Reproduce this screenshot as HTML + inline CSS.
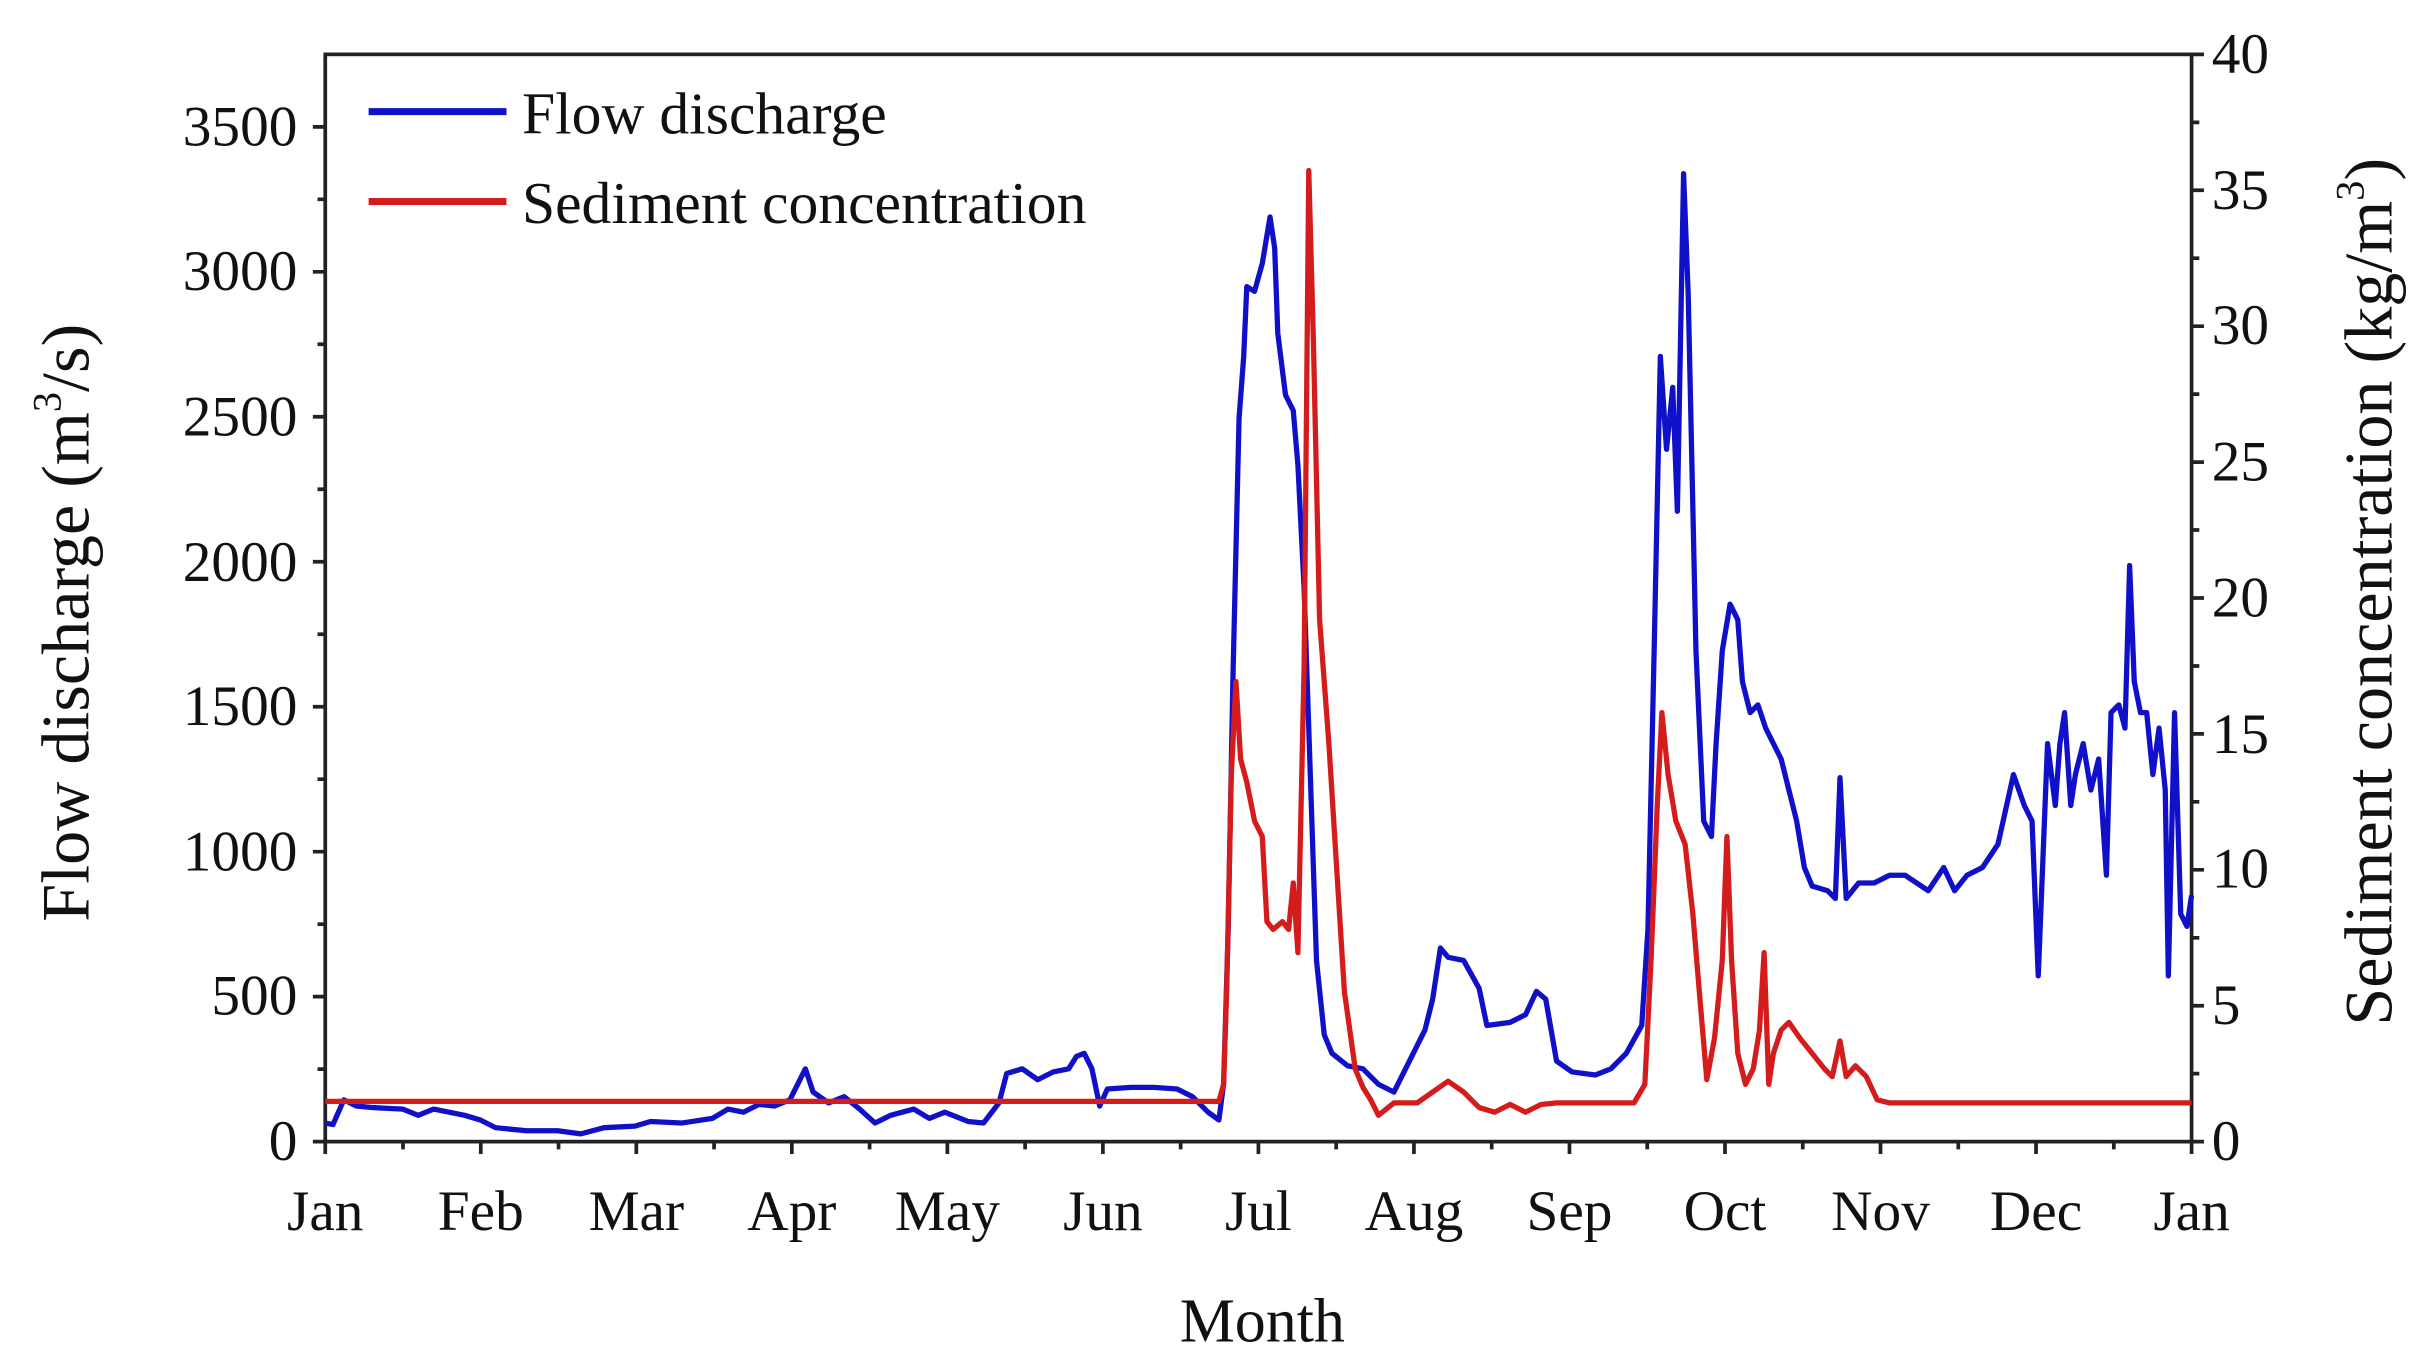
<!DOCTYPE html>
<html><head><style>body{margin:0;background:#fff}svg{display:block}</style></head><body>
<svg width="2427" height="1371" viewBox="0 0 1567 885" xmlns="http://www.w3.org/2000/svg" font-family="Liberation Serif, serif">
<rect width="1567" height="885" fill="#fff"/>
<g stroke="#222" stroke-width="2.4" fill="none">
<rect x="210" y="35" width="1205" height="702"/>
<path d="
M210,737h-8 M210,643.4h-8 M210,549.8h-8 M210,456.2h-8 M210,362.6h-8 M210,269h-8 M210,175.4h-8 M210,81.8h-8
M210,690.2h-5 M210,596.6h-5 M210,503h-5 M210,409.4h-5 M210,315.8h-5 M210,222.2h-5 M210,128.6h-5
M1415,737h8 M1415,649.25h8 M1415,561.5h8 M1415,473.75h8 M1415,386h8 M1415,298.25h8 M1415,210.5h8 M1415,122.75h8 M1415,35h8
M1415,693.1h5 M1415,605.4h5 M1415,517.6h5 M1415,429.9h5 M1415,342.1h5 M1415,254.4h5 M1415,166.6h5 M1415,78.9h5
"/>
</g>
<g id="xt" stroke="#222" stroke-width="2.4"></g>
<polyline fill="none" stroke="#1010c8" stroke-width="3.4" stroke-linejoin="round" points="210,725 215,726 222,710 230,714 240,715 260,716 270,720 280,716 290,718 300,720 310,723 320,728 340,730 360,730 375,732 390,728 410,727 420,724 440,725 460,722 470,716 480,718 490,713 500,714 510,710 520,690 525,705 535,712 545,708 555,716 565,725 575,720 590,716 600,722 610,718 625,724 635,725 645,712 650,693 660,690 670,697 680,692 690,690 695,682 700,680 705,690 710,714 715,703 730,702 745,702 760,703 770,708 780,718 787,723 790,700 793,600 796,440 800,270 803,230 805,185 810,188 815,170 820,140 823,160 825,215 830,255 835,265 838,300 842,380 846,500 850,620 855,668 860,680 870,688 880,690 890,700 900,705 910,685 920,665 925,645 930,612 935,618 945,620 955,638 960,662 975,660 985,655 992,640 998,645 1005,685 1015,692 1030,694 1040,690 1050,680 1060,662 1064,600 1068,420 1072,230 1076,290 1080,250 1083,330 1087,112 1090,190 1095,420 1100,530 1105,540 1108,480 1112,420 1117,390 1122,400 1125,440 1130,460 1135,455 1140,470 1150,490 1160,530 1165,560 1170,572 1180,575 1185,580 1188,502 1192,580 1200,570 1210,570 1220,565 1230,565 1245,575 1255,560 1262,575 1270,565 1280,560 1290,545 1300,500 1307,520 1312,530 1316,630 1322,480 1327,520 1330,480 1333,460 1337,520 1340,500 1345,480 1350,510 1355,490 1360,565 1363,460 1368,455 1372,470 1375,365 1378,440 1382,460 1386,460 1390,500 1394,470 1398,510 1400,630 1404,460 1408,590 1412,598 1415,578"/>
<polyline fill="none" stroke="#d41c1c" stroke-width="3.4" stroke-linejoin="round" points="210,711 787,711 790,700 792,640 795,500 798,440 801,490 805,505 810,530 815,540 818,595 822,600 828,595 832,600 835,570 838,615 842,430 845,110 848,220 852,400 858,480 863,560 868,640 875,690 880,702 885,710 890,720 900,712 915,712 925,705 935,698 945,705 955,715 965,718 975,713 985,718 995,713 1005,712 1020,712 1055,712 1062,700 1066,620 1070,520 1073,460 1077,500 1082,530 1088,545 1093,590 1098,650 1102,697 1107,670 1112,620 1115,540 1118,620 1122,680 1127,700 1132,690 1136,665 1139,615 1142,700 1145,680 1150,665 1155,660 1162,670 1170,680 1178,690 1183,695 1188,672 1192,695 1198,688 1205,695 1212,710 1220,712 1415,712"/>
<g font-size="37" fill="#111">
<g text-anchor="end">
<text x="192" y="749">0</text><text x="192" y="655">500</text><text x="192" y="562">1000</text><text x="192" y="468">1500</text><text x="192" y="375">2000</text><text x="192" y="281">2500</text><text x="192" y="187">3000</text><text x="192" y="94">3500</text>
</g>
<g text-anchor="start">
<text x="1428" y="749">0</text><text x="1428" y="661">5</text><text x="1428" y="573">10</text><text x="1428" y="486">15</text><text x="1428" y="398">20</text><text x="1428" y="310">25</text><text x="1428" y="222">30</text><text x="1428" y="135">35</text><text x="1428" y="47">40</text>
</g>
<g text-anchor="middle" id="ml"></g>
<text x="815" y="866" text-anchor="middle" font-size="40">Month</text>
<text transform="translate(57,402) rotate(-90)" text-anchor="middle" font-size="44">Flow discharge (m<tspan font-size="26" dy="-18">3</tspan><tspan dy="18">/s)</tspan></text>
<text transform="translate(1544,382) rotate(-90)" text-anchor="middle" font-size="44">Sediment concentration (kg/m<tspan font-size="26" dy="-18">3</tspan><tspan dy="18">)</tspan></text>
<line x1="238" y1="72" x2="327" y2="72" stroke="#1010c8" stroke-width="4.5"/>
<line x1="238" y1="130" x2="327" y2="130" stroke="#d41c1c" stroke-width="4.5"/>
<g font-size="38.5"><text x="337" y="86">Flow discharge</text>
<text x="337" y="144">Sediment concentration</text></g>
</g>
<script>
var m=["Jan","Feb","Mar","Apr","May","Jun","Jul","Aug","Sep","Oct","Nov","Dec","Jan"],g=document.getElementById('xt'),l=document.getElementById('ml'),ns="http://www.w3.org/2000/svg";
for(var i=0;i<=12;i++){var x=210+i*1205/12;var p=document.createElementNS(ns,'line');p.setAttribute('x1',x);p.setAttribute('x2',x);p.setAttribute('y1',737);p.setAttribute('y2',745);g.appendChild(p);
var t=document.createElementNS(ns,'text');t.setAttribute('x',x);t.setAttribute('y',794);t.textContent=m[i];l.appendChild(t);
if(i<12){var q=document.createElementNS(ns,'line');var xm=x+1205/24;q.setAttribute('x1',xm);q.setAttribute('x2',xm);q.setAttribute('y1',737);q.setAttribute('y2',742);g.appendChild(q);}}
</script>
</svg>
</body></html>
